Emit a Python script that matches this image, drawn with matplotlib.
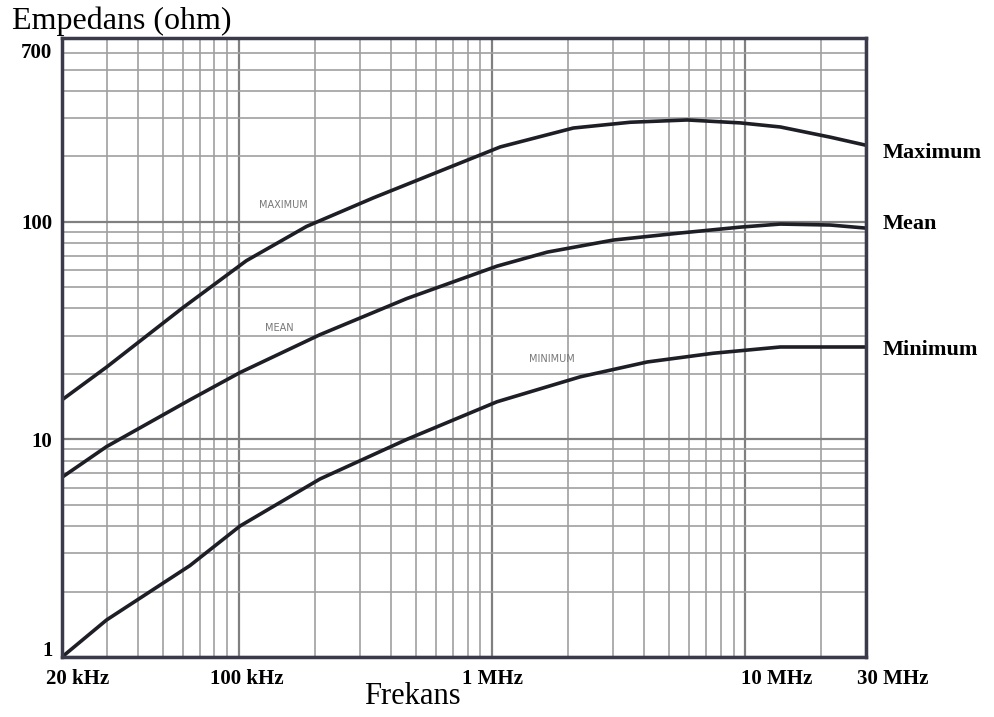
import matplotlib.pyplot as plt
from matplotlib.ticker import FixedLocator, NullFormatter, LogLocator
from matplotlib.transforms import ScaledTranslation, blended_transform_factory

# frequencies in kHz, impedance in ohm
f_max = [20, 30, 60, 107, 185, 340, 1077, 2094, 3516, 5903, 9572, 13760, 21700, 30000]
z_max = [15.2, 21.5, 40.3, 66.3, 95.3, 129, 221, 270, 287, 294, 285, 273, 245, 225]

f_mean = [20, 30, 64, 101, 209, 460, 1046, 1652, 3012, 5546, 9572, 13760, 21700, 30000]
z_mean = [6.7, 9.27, 15.2, 20.3, 30.3, 44.4, 62.6, 72.6, 82.5, 88.9, 94.6, 97.7, 96.7, 93.6]

f_min = [20, 30, 64, 101, 209, 460, 1046, 2230, 4102, 7482, 13760, 30000]
z_min = [1.0, 1.48, 2.63, 4.0, 6.58, 10.0, 14.9, 19.4, 22.7, 24.9, 26.6, 26.6]

x_ticks = [20, 100, 1000, 10000, 30000]
x_labels = ['20 kHz', '100 kHz', '1 MHz', '10 MHz', '30 MHz']
y_ticks = [1, 10, 100, 700]
y_labels = ['1', '10', '100', '700']

W, H = 994, 717
fig = plt.figure(figsize=(W / 100, H / 100), dpi=100)
ax = fig.add_axes([62 / W, (H - 657) / H, (866 - 62) / W, (657 - 38) / H])

ax.set_xscale('log')
ax.set_yscale('log')
ax.set_xlim(20, 30000)
ax.set_ylim(1, 700)

ax.xaxis.set_major_locator(FixedLocator(x_ticks))
ax.yaxis.set_major_locator(FixedLocator(y_ticks))
ax.xaxis.set_minor_locator(LogLocator(base=10, subs=range(2, 10), numticks=20))
ax.yaxis.set_minor_locator(LogLocator(base=10, subs=range(2, 10), numticks=20))
ax.xaxis.set_minor_formatter(NullFormatter())
ax.yaxis.set_minor_formatter(NullFormatter())

serif = 'Liberation Serif'
ax.set_xticklabels(x_labels, fontfamily=serif, fontweight='bold', fontsize=15)
ax.set_yticklabels(y_labels, fontfamily=serif, fontweight='bold', fontsize=15)
ax.tick_params(axis='x', which='both', length=0, pad=9)
ax.tick_params(axis='y', which='both', length=0, pad=7)

# the scanned labels sit a little off their grid lines
x_shift = [16, 8, 0, 31, 27]
for lab, dx in zip(ax.get_xticklabels(), x_shift):
    lab.set_transform(lab.get_transform() + ScaledTranslation(dx * 0.72 / 72, 0, fig.dpi_scale_trans))
y_shift = [8, 0, 0, -12]
for lab, dy in zip(ax.get_yticklabels(), y_shift):
    lab.set_transform(lab.get_transform() + ScaledTranslation(0, dy * 0.72 / 72, fig.dpi_scale_trans))

ax.grid(which='major', color='#808080', linewidth=1.6)
ax.grid(which='minor', color='#a0a0a0', linewidth=1.2)
ax.set_axisbelow(True)
for side in ax.spines.values():
    side.set_color('#3a3a4a')
    side.set_linewidth(2.5)

ax.plot(f_max, z_max, color='#1e1e26', linewidth=2.6)
ax.plot(f_mean, z_mean, color='#1e1e26', linewidth=2.6)
ax.plot(f_min, z_min, color='#1e1e26', linewidth=2.6)

# faint labels printed on the original paper
ax.text(150, 119, 'MAXIMUM', fontsize=7, color='#777777', ha='center', va='center')
ax.text(145, 32.5, 'MEAN', fontsize=7, color='#777777', ha='center', va='center')
ax.text(1716, 23.4, 'MINIMUM', fontsize=7, color='#777777', ha='center', va='center')

# curve names right of the frame
tr = blended_transform_factory(fig.transFigure, ax.transData)
ax.text(883 / W, 207, 'Maximum', transform=tr, fontsize=16, fontfamily=serif,
        fontweight='bold', va='center')
ax.text(883 / W, 97.7, 'Mean', transform=tr, fontsize=16, fontfamily=serif,
        fontweight='bold', va='center')
ax.text(883 / W, 25.7, 'Minimum', transform=tr, fontsize=16, fontfamily=serif,
        fontweight='bold', va='center')

fig.text(12 / W, 1 - 21 / H, 'Empedans (ohm)', fontsize=23, fontfamily=serif, va='center')
fig.text(412 / W, 1 - 697 / H, 'Frekans', fontsize=22, fontfamily=serif, ha='center', va='center')

fig.savefig('out.png', dpi=100)
